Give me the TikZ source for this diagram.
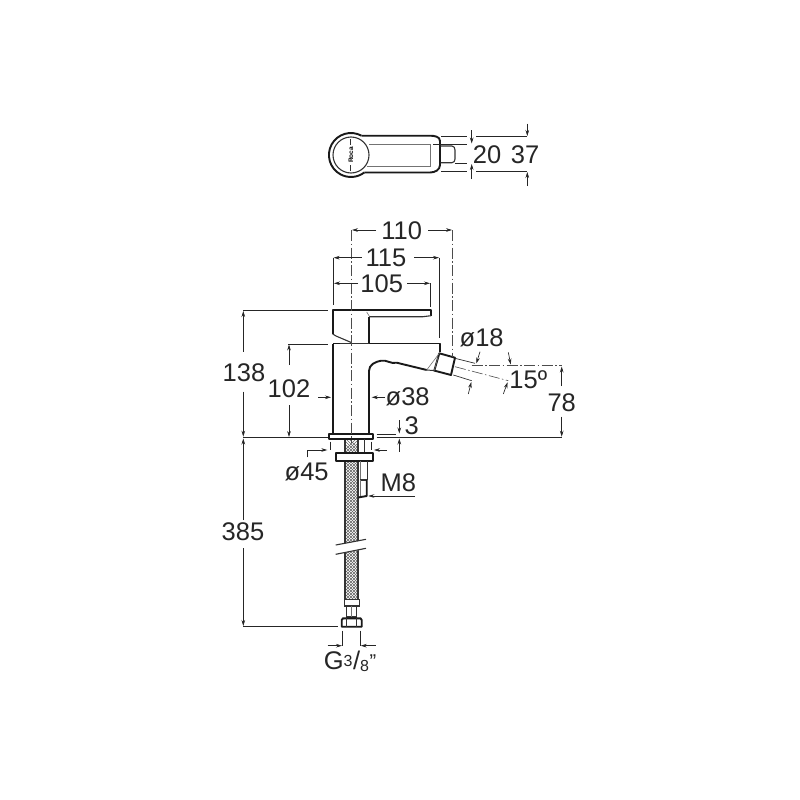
\documentclass[tikz,border=0pt]{standalone}
\usepackage{fontspec}
\setmainfont{Liberation Sans}
\usetikzlibrary{arrows.meta}
\tikzset{
  dim/.style={line width=0.65pt,draw=black!85},
  arr/.style={dim,-{Stealth[length=6pt,width=3.6pt]}},
  thick outline/.style={line width=1.9pt,draw=black!90,line join=round},
  mid/.style={line width=1.1pt,draw=black!80},
  fine/.style={line width=0.6pt,draw=black!55},
  axis/.style={line width=0.6pt,draw=black!70,dash pattern=on 11pt off 2.5pt on 1.5pt off 2.5pt},
  lab/.style={inner sep=0pt,font=\fontsize{25.5}{25.5}\selectfont,text=black!85},
}
\begin{document}
\begin{tikzpicture}[x=1pt,y=-1pt]
\useasboundingbox[fill=white] (0,0) rectangle (800,800);
% ---------- top view
\draw[thick outline] (361.5,135.7) -- (430,135.7) to[out=0,in=90] (440,141) -- (440,165) to[out=-90,in=0] (430,172.5) -- (364.3,172.5);
\draw[thick outline] (361.5,135.7) arc[start angle=-61.3,end angle=-307.3,radius=22];
\draw[mid] (351,155) circle[radius=18];
\draw[fine] (369,144.3) -- (430,144.3) -- (430,166) -- (367,166);
\draw[mid] (440.7,146) -- (452,146) to[out=0,in=90] (455,150) -- (455,159) to[out=-90,in=0] (452,162.7) -- (440.7,162.7);
\draw[mid] (350.7,139.3) -- (350.7,145) (350.7,165) -- (350.7,170.5);
\node[rotate=90,inner sep=0pt,font=\fontsize{6.5}{6.5}\selectfont\bfseries] (roca) at (351,155) {Roca};
\draw[dim] (441,136.7) -- (467,136.7) (476,136.7) -- (527.3,136.7);
\draw[dim] (441,171.3) -- (467,171.3) (476,171.3) -- (527.3,171.3);
\draw[dim] (433,144.3) -- (467,144.3) (455,163) -- (467,163);
\draw[arr] (471.7,130) -- (471.7,143.5);
\draw[arr] (471.7,179) -- (471.7,164);
\draw[arr] (527.3,123.5) -- (527.3,136);
\draw[arr] (527.3,186) -- (527.3,172);
\node[lab] (t20) at (487,155) {20};
\node[lab] (t37) at (525,155) {37};
% ---------- hose
\begin{scope}
\clip (345,439) rectangle (358,600);
\foreach \k in {0,3,...,180} {
  \draw[line width=0.55pt,draw=black!60] (340,430+\k) -- (365,455+\k);
  \draw[line width=0.55pt,draw=black!60] (365,430+\k) -- (340,455+\k);
}
\end{scope}
\draw[mid] (345,439) -- (345,600) (358,439) -- (358,600);
\fill[white] (333,545.5) -- (368,539.5) -- (368,548.5) -- (333,554.5) -- cycle;
\draw[mid] (335.7,545) -- (366,539.3) (335.7,554.3) -- (366,548.3);
% ferrule and nut
\draw[mid,fill=white] (344.3,599.3) rectangle (359.3,606);
\draw[mid,fill=white] (346.7,606) rectangle (356.5,617);
\draw[fine] (351.5,606) -- (351.5,617);
\draw[thick outline,fill=white] (343,618.3) -- (360.5,618.3) -- (361.7,620) -- (361.7,626.7) -- (341.7,626.7) -- (341.7,620) -- cycle;
\draw[mid] (346.7,618.3) -- (346.7,626.7) (356.5,618.3) -- (356.5,626.7);
% ---------- tap body
\draw[thick outline] (333.3,344) -- (333.3,434);
\draw[thick outline] (369,434) -- (369,371) to[out=90,in=190] (381,360.7) to[out=10,in=195] (396.7,362.7) -- (426.7,370);
\draw[thick outline] (333.3,343.5) -- (340,343.5) (369,343.5) -- (440,343.5) -- (440,352);
\draw[mid] (340,343.5) -- (369,343.5);
\draw[thick outline] (439.3,353.3) -- (455,357.7) -- (451,375) -- (434.3,370.6) -- cycle;
\draw[fine] (439.3,353.3) -- (426.7,370) (438,357) -- (434.3,370.6);
\draw[line width=1pt,draw=black!80] (426.7,370) -- (434.3,370.6);
% handle
\draw[thick outline] (369,343.3) -- (369,316.7);
\draw[thick outline] (332.7,334) -- (332.7,310) -- (431,310) -- (431,315.7);
\draw[mid] (431,315.7) -- (423,316.7) -- (369,316.7);
\draw[fine] (366.7,312) -- (369.5,316.5);
\draw[mid] (332.7,334) -- (336,336) -- (351.7,342.7);
% flange
\draw[thick outline,fill=white] (329.3,434) rectangle (373.3,439);
% shank and fixing
\draw[mid] (364.7,439) -- (364.7,453.3);
\draw[thick outline,fill=white] (336,453.3) rectangle (373.3,460.7);
\draw[mid] (367.3,460.7) -- (367.3,479.5);
\draw[fine] (360,461) -- (360,480);
\draw[mid] (360,480) -- (366.7,480);
\draw[thick outline] (366.7,480) -- (366.7,496) -- (358,497.5);
\draw[fine] (360,480) -- (360,496);
% ---------- centre lines
\draw[axis] (351.7,230) -- (351.7,443);
\draw[axis] (452,230) -- (452,357);
\draw[axis] (471.7,365.7) -- (561.7,365.7);
\draw[axis] (455,366.7) -- (508.3,380.7);
% ---------- horizontal width dims
\draw[arr] (376,230) -- (352,230);
\draw[arr] (428,230) -- (452,230);
\node[lab] (t110) at (401.7,230.7) {110};
\draw[dim] (333.3,257.7) -- (333.3,305);
\draw[dim] (439.3,257.7) -- (439.3,338);
\draw[arr] (361.7,257.7) -- (333.6,257.7);
\draw[arr] (414,257.7) -- (439,257.7);
\node[lab] (t115) at (386,257.7) {115};
\draw[dim] (430,283.3) -- (430,306.7);
\draw[arr] (358,283.3) -- (334,283.3);
\draw[arr] (407,283.3) -- (430,283.3);
\node[lab] (t105) at (381.7,283.3) {105};
% ---------- left vertical dims
\draw[dim] (243.3,310) -- (328,310);
\draw[dim] (288,344) -- (328,344);
\draw[dim] (243.3,437.7) -- (328,437.7);
\draw[dim] (376.7,437.5) -- (561.7,437.5);
\draw[dim] (376.7,434) -- (396,434);
\draw[arr] (243.3,351.7) -- (243.3,311);
\draw[arr] (243.3,391.7) -- (243.3,436.7);
\node[lab] (t138) at (244,372.3) {138};
\draw[arr] (289,365) -- (289,344.5);
\draw[arr] (289,405) -- (289,437);
\node[lab] (t102) at (289,389) {102};
\draw[arr] (243.3,520) -- (243.3,438.5);
\draw[arr] (243.3,548) -- (243.3,626);
\node[lab] (t385) at (243,532) {385};
\draw[dim] (243.3,626.7) -- (338,626.7);
% ---------- o38
\draw[arr] (318.3,397.3) -- (331,397.3);
\draw[arr] (385,397.3) -- (371.7,397.3);
\node[lab] (t38) at (407.7,397.3) {ø38};
% ---------- 3
\draw[arr] (399.3,420) -- (399.3,433.5);
\draw[arr] (399.3,451.7) -- (399.3,438.5);
\node[lab] (t3) at (411.7,426) {3};
% ---------- spout dims
\draw[dim] (455,358.3) -- (475,363.3);
\draw[dim] (453.3,375) -- (471.7,380.7);
\draw[arr] (480,351.7) -- (476.3,363.5);
\draw[arr] (468.3,394) -- (471.3,382);
\node[lab] (t18) at (481.7,338.3) {ø18};
\draw[arr] (508.3,352.3) -- (510.7,364.5);
\draw[arr] (503.3,394) -- (507.6,382.3);
\node[lab] (t15) at (528.3,380) {15º};
\draw[arr] (561.7,386) -- (561.7,366.5);
\draw[arr] (561.7,416.7) -- (561.7,436.7);
\node[lab] (t78) at (561.7,402.3) {78};
% ---------- o45, M8
\draw[dim] (330.7,441.7) -- (330.7,450);
\draw[dim] (371.7,441.7) -- (371.7,450);
\draw[arr] (307.7,457.3) -- (307.7,450) -- (327.3,450);
\draw[arr] (386.7,450) -- (374,450);
\node[lab] (t45) at (306.7,471.7) {ø45};
\draw[arr] (415,496) -- (368.3,496);
\node[lab] (tm8) at (398.3,482.7) {M8};
% ---------- G 3/8
\draw[dim] (342.7,630.7) -- (342.7,646);
\draw[dim] (360,630.7) -- (360,646);
\draw[arr] (327.7,645.7) -- (342,645.7);
\draw[arr] (375.7,645.7) -- (360.7,645.7);
\node[lab] (tg) at (350,661) {G\raisebox{2.5pt}{\fontsize{16}{16}\selectfont 3}\kern0.5pt/\raisebox{-2pt}{\fontsize{16}{16}\selectfont 8}\kern0.5pt\raisebox{1pt}{\fontsize{20}{20}\selectfont "}};
\end{tikzpicture}
\end{document}
